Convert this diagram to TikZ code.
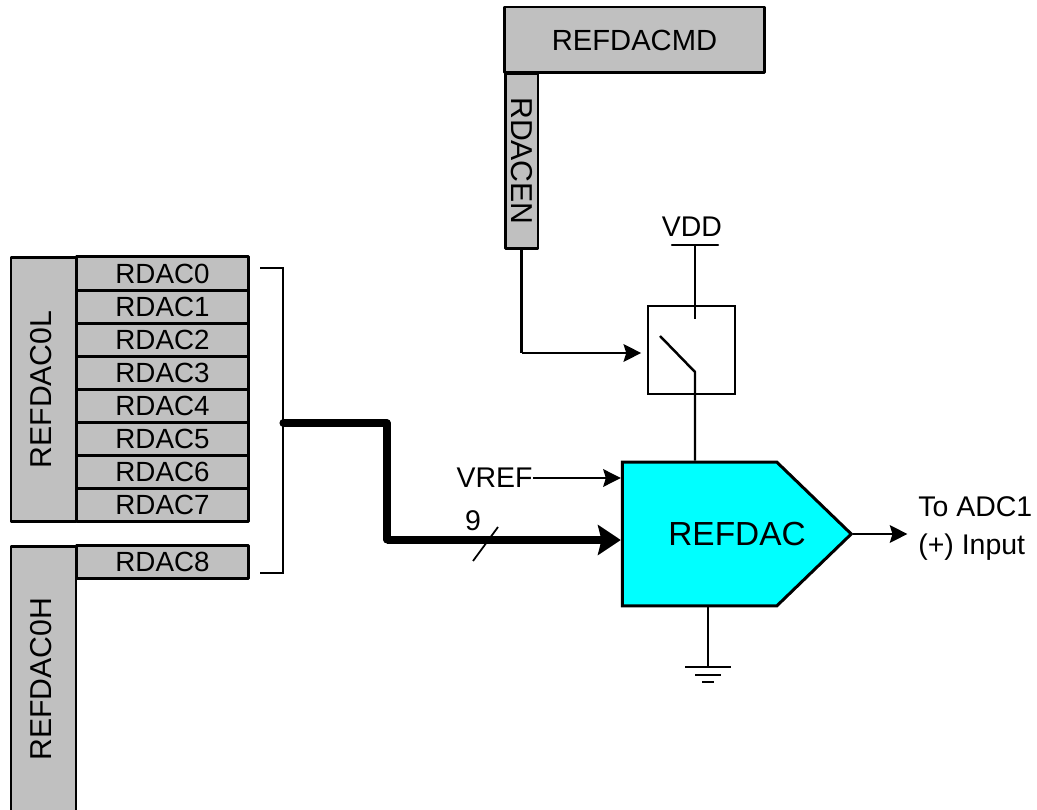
\documentclass[tikz,border=0pt]{standalone}
\usepackage{fontspec}
\setmainfont{Liberation Sans}
\usetikzlibrary{arrows.meta,shapes.symbols}
\definecolor{regfill}{RGB}{192,192,192}
\definecolor{dacfill}{RGB}{0,255,255}
\begin{document}
\begin{tikzpicture}[
    x=0.02cm, y=-0.02cm,
    reg/.style={rectangle, draw, line width=1.7pt, line join=round, fill=regfill, inner sep=0pt, font=\fontsize{15.8}{19}\selectfont},
    bitbox/.style={reg, minimum width=3.46cm, minimum height=0.662cm},
    sidebox/.style={reg, rotate=90, minimum width=5.3cm, minimum height=1.3cm, text depth=3.4pt, font=\fontsize{17.2}{20}\selectfont},
    label/.style={inner sep=0pt, font=\fontsize{16.2}{21.6}\selectfont},
    wire/.style={line width=1.4pt, line join=miter},
    arrow/.style={wire, -{Stealth[length=10pt,width=10pt,inset=1.5pt]}},
    bus/.style={line width=4pt, line cap=round, line join=round},
    busarrow/.style={line width=4pt, -{Stealth[length=13pt,width=17pt,inset=2pt]}}
]
\useasboundingbox (0,0) rectangle (1037,810);
% Registers
\node[reg, minimum width=5.22cm, minimum height=1.32cm, font=\fontsize{16.6}{20}\selectfont] (cmd) at (634.5,40) {REFDACMD};
\node[reg, rotate=-90, minimum width=3.52cm, minimum height=0.66cm, font=\fontsize{17.2}{20}\selectfont] (rdacen) at (521.5,161) {RDACEN};
\node[sidebox] (low) at (43.5,389.5) {REFDAC0L};
\node[sidebox] (high) at (43.5,679) {REFDAC0H};
\node[bitbox] (b0) at (162.5,273.5) {RDAC0};
\node[bitbox] (b1) at (162.5,306.6) {RDAC1};
\node[bitbox] (b2) at (162.5,339.7) {RDAC2};
\node[bitbox] (b3) at (162.5,372.8) {RDAC3};
\node[bitbox] (b4) at (162.5,406) {RDAC4};
\node[bitbox] (b5) at (162.5,439.1) {RDAC5};
\node[bitbox] (b6) at (162.5,472.2) {RDAC6};
\node[bitbox] (b7) at (162.5,505.4) {RDAC7};
\node[bitbox] (b8) at (162.5,562) {RDAC8};

% Bracket and bus
\coordinate (brtop) at (260,268);
\coordinate (brbot) at (260,573);
\coordinate (brjoin) at (283,423);
\coordinate (busin) at (387,540);
\draw[wire] (brtop) -| (brjoin) |- (brbot);

% REFDAC
\node[signal, signal to=east, signal from=nowhere, signal pointer angle=88, draw, line width=1.7pt, fill=dacfill, inner sep=0pt, minimum width=4.58cm, minimum height=2.88cm] (dac) at (699.5,534) {};
\node[inner sep=0pt, font=\fontsize{19}{23}\selectfont] (dactext) at (737,534) {REFDAC};

\draw[bus] (brjoin) -| (busin);
\draw[busarrow] (busin) -- (busin -| dac.west);

% Slash on the bus
\coordinate (slasha) at (473,561);
\coordinate (slashb) at (498,527);
\draw[line width=1pt] (slasha) -- (slashb);
\node[label] (nine) at (473,521) {9};

% Inputs and output
\node[label] (vref) at (494.5,478) {VREF};
\draw[arrow] (vref.east) -- (vref.east -| dac.west);
\draw[arrow] (dac.east) -- ++(54,0) coordinate (dacout);
\node[label, align=left, anchor=west] (toadc) at (918,528.5) {To ADC1\\(+) Input};

% Switch
\node[rectangle, draw, line width=1pt, minimum width=1.74cm, minimum height=1.76cm] (sw) at (691.5,350) {};
\coordinate (swtop) at (695,319);
\coordinate (swpivot) at (695,372);
\coordinate (swarm) at (660,336);
\coordinate (vddbar) at (695,245);
\coordinate (enbend) at (521.5,353);
\draw[wire] (vddbar) -- (swtop);
\draw[wire, line cap=round] ([xshift=-0.46cm]vddbar) -- ([xshift=0.46cm]vddbar);
\draw[wire] (swarm) -- (swpivot) -- (swpivot |- dac.north);
\node[label] (vdd) at (692,227) {VDD};
\draw[wire] (rdacen.east) -- (enbend);
\draw[arrow] (enbend) -- ([xshift=-3.4pt]enbend -| sw.west);

% Ground
\coordinate (gnd) at (708,667);
\draw[wire] (gnd |- dac.south) -- (gnd);
\draw[wire] ([xshift=-0.46cm]gnd) -- ([xshift=0.46cm]gnd);
\draw[wire] ([xshift=-0.26cm,yshift=-8*0.02cm]gnd) -- ([xshift=0.26cm,yshift=-8*0.02cm]gnd);
\draw[wire] ([xshift=-0.12cm,yshift=-15*0.02cm]gnd) -- ([xshift=0.12cm,yshift=-15*0.02cm]gnd);
\end{tikzpicture}
\end{document}
